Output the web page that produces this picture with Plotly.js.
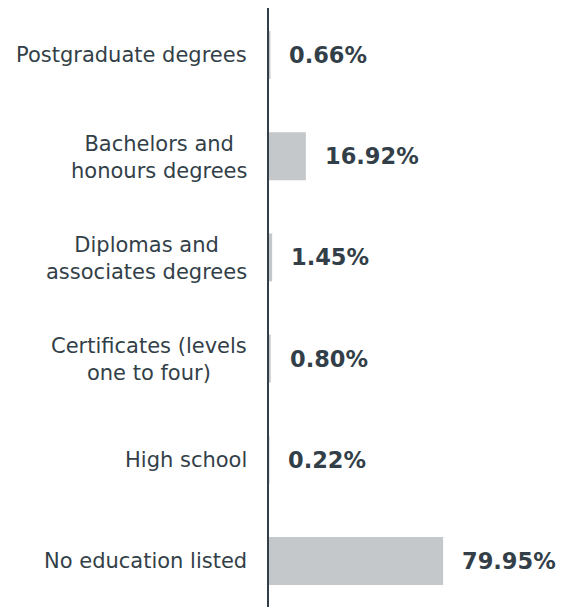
<!DOCTYPE html>
<html>
<head>
<meta charset="utf-8">
<script src="https://cdn.plot.ly/plotly-3.0.1.min.js"></script>
<style>html,body{margin:0;padding:0;background:#fff;}#chart{width:563px;height:607px;}</style>
</head>
<body>
<div id="chart"></div>
<script>
var categories = [
  "Postgraduate degrees",
  "Bachelors and<br>honours degrees",
  "Diplomas and<br>associates degrees",
  "Certificates (levels<br>one to four)",
  "High school",
  "No education listed"
];
var shares = [0.66, 16.92, 1.45, 0.80, 0.22, 79.95];
var valueLabels = ["0.66%", "16.92%", "1.45%", "0.80%", "0.22%", "79.95%"];

var textColor = "#333f48";
var idx = categories.map(function(_, i){ return i; });

var trace = {
  type: "bar",
  orientation: "h",
  x: shares,
  y: idx,
  marker: {color: "#c5c8cb"},
  hoverinfo: "skip"
};

var annotations = [];
categories.forEach(function(c, i){
  var multi = c.indexOf("<br>") >= 0;
  annotations.push({
    xref: "paper", yref: "y", x: 0, y: i,
    xanchor: "right", yanchor: "middle", xshift: -20, yshift: multi ? -1 : 0,
    text: c, showarrow: false, align: "center",
    font: {family: "DejaVu Sans", size: 21, color: textColor}
  });
  annotations.push({
    xref: "x", yref: "y", x: shares[i], y: i,
    xanchor: "left", yanchor: "middle", xshift: 17,
    text: "<b>" + valueLabels[i] + "</b>", showarrow: false,
    font: {family: "DejaVu Sans", size: 22.5, color: textColor}
  });
});

var layout = {
  width: 563, height: 607,
  margin: {l: 269, r: 0, t: 8, b: 0, pad: 0},
  paper_bgcolor: "#ffffff", plot_bgcolor: "#ffffff",
  showlegend: false,
  bargap: 0.526,
  xaxis: {range: [0, 135.0], visible: false, fixedrange: true},
  yaxis: {
    range: [5.4545, -0.4644], showticklabels: false, ticks: "",
    showgrid: false, zeroline: false,
    showline: true, linecolor: textColor, linewidth: 2
  },
  annotations: annotations
};

Plotly.newPlot("chart", [trace], layout, {displayModeBar: false, staticPlot: true});
</script>
</body>
</html>
